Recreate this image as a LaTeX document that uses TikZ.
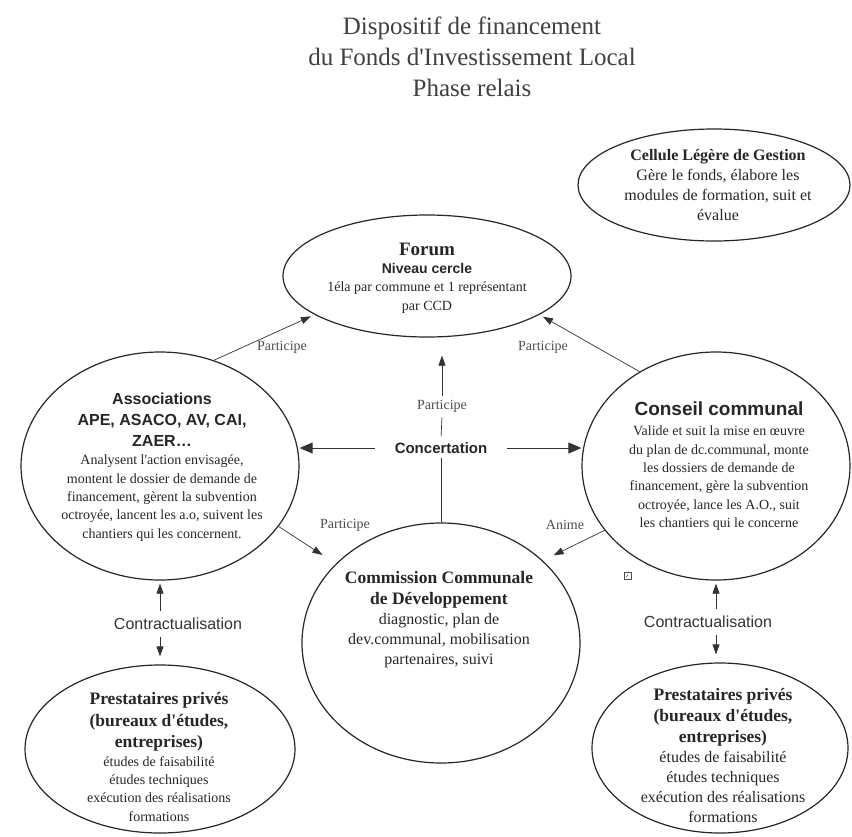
\documentclass[tikz,border=0pt]{standalone}
\usepackage{fontspec}
\setmainfont{Liberation Serif}
\setsansfont{Liberation Sans}
\usetikzlibrary{shapes.geometric,arrows.meta}
\newcommand\ptexte{\fontsize{14}{18.4}\selectfont}
\newcommand\gtexte{\fontsize{16}{20}\selectfont}
\newcommand\ptitre{\fontsize{25}{31}\selectfont}
\newcommand\gras[1]{{\bfseries\fontsize{17.5}{22}\selectfont #1}}
\newcommand\grsans[1]{{\sffamily\bfseries\fontsize{16}{21}\selectfont #1}}
\newcommand\apos{\textquotesingle}
\begin{document}
\begin{tikzpicture}[x=1pt,y=-1pt,
    every node/.style={text=black!85},
    bulle/.style={draw=black!85,ellipse,line width=1.2pt,inner sep=0pt},
    txt/.style={align=center,font=\ptexte,inner sep=0pt},
    etiq/.style={font=\fontsize{14}{16}\selectfont,text=black!70,inner sep=4pt},
    contr/.style={font=\sffamily\fontsize{16}{18}\selectfont,text=black!80,inner xsep=2pt,inner ysep=7pt},
    fleche/.style={draw=black!80,line width=0.7pt,-{Triangle[length=10pt,width=7pt]}},
    grfleche/.style={draw=black!80,line width=0.9pt,-{Triangle[length=13pt,width=11pt]}}]
  \useasboundingbox (0,0) rectangle (852,836);

  \node[font=\ptitre,align=center,text=black!75] (titre) at (472,57)
    {Dispositif de financement\\du Fonds d\apos Investissement Local\\Phase relais};

  % les bulles
  \node[bulle,minimum width=288,minimum height=122] (forum) at (427,276) {};
  \node[bulle,minimum width=272,minimum height=112] (cellule) at (714,185) {};
  \node[bulle,minimum width=278,minimum height=228] (assoc) at (160,466) {};
  \node[bulle,minimum width=268,minimum height=228] (conseil) at (716,466) {};
  \node[bulle,minimum width=278,minimum height=240] (ccd) at (441,643) {};
  \node[bulle,minimum width=270,minimum height=168] (prestG) at (160,749) {};
  \node[bulle,minimum width=256,minimum height=170] (prestD) at (720,748) {};

  \node[txt] (forumtxt) at (427,278) {{\bfseries\fontsize{19}{20}\selectfont Forum}\\
    {\sffamily\bfseries\fontsize{14}{20}\selectfont Niveau cercle}\\
    1éla par commune et 1 représentant\\par CCD};
  \node[txt,font=\gtexte] (celltxt) at (718,185) {{\bfseries Cellule Légère de Gestion}\\
    Gère le fonds, élabore les\\modules de formation, suit et\\évalue};
  \node[txt] (assoctxt) at (162,467) {\grsans{Associations}\\[2.5pt]
    \grsans{APE, ASACO, AV, CAI,}\\[2.5pt]\grsans{ZAER\ldots}\\
    Analysent l\apos action envisagée,\\montent le dossier de demande de\\
    financement, gèrent la subvention\\octroyée, lancent les a.o, suivent les\\
    chantiers qui les concernent.};
  \node[txt] (conseiltxt) at (719,466) {{\sffamily\bfseries\fontsize{19}{22}\selectfont Conseil communal}\\[2pt]
    Valide et suit la mise en œuvre\\du plan de dc.communal, monte\\
    les dossiers de demande de\\financement, gère la subvention\\
    octroyée, lance les A.O., suit\\les chantiers qui le concerne};
  \node[txt,font=\gtexte] (ccdtxt) at (439,620) {{\bfseries\fontsize{17.5}{22}\selectfont Commission Communale}\\[1pt]
    {\bfseries\fontsize{17.5}{22}\selectfont de Développement}\\
    diagnostic, plan de\\dev.communal, mobilisation\\partenaires, suivi};
  \node[txt] (prestGtxt) at (159,757) {\gras{Prestataires privés}\\[3pt]
    \gras{(bureaux d\apos études,}\\[3pt]\gras{entreprises)}\\
    études de faisabilité\\études techniques\\exécution des réalisations\\formations};
  \node[txt,font=\gtexte] (prestDtxt) at (723,755) {\gras{Prestataires privés}\\[1pt]
    \gras{(bureaux d\apos études,}\\[1pt]\gras{entreprises)}\\
    études de faisabilité\\études techniques\\exécution des réalisations\\formations};

  % les liens
  \node[font=\sffamily\bfseries\fontsize{15}{17}\selectfont,inner xsep=20pt,inner ysep=4pt] (conc) at (441,448) {Concertation};
  \node[etiq] (partC) at (442,406) {Participe};
  \node[etiq] (partG) at (282,347) {Participe};
  \node[etiq] (partD) at (543,347) {Participe};
  \node[etiq] (partB) at (345,525) {Participe};
  \node[etiq] (anime) at (565,525) {Anime};
  \node[contr] (contrG) at (178,624) {Contractualisation};
  \node[contr] (contrD) at (708,622) {Contractualisation};

  \draw[fleche,shorten >=4pt] (assoc.63) -- (forum.199);
  \draw[fleche,shorten >=4pt] (conseil.129) -- (forum.341);
  \draw[fleche,shorten >=18pt] (partC.north) -- (partC.north |- forum.south);
  \draw[draw=black!80,line width=0.7pt,shorten <=2pt,shorten >=1pt] (conc.north) -- (partC.south);
  \draw[draw=black!80,line width=0.8pt] (conc.south) -- (conc.south |- ccd.north);
  \draw[grfleche] (conc.west) -- (conc.west -| assoc.east);
  \draw[grfleche] (conc.east) -- (conc.east -| conseil.west);
  \draw[fleche,shorten >=16pt] (assoc.-27) -- (ccd.143);
  \draw[fleche,shorten >=12pt] (conseil.210) -- (ccd.39);
  \draw[fleche,shorten >=3pt] (contrG.north -| assoc.south) -- (assoc.south);
  \draw[fleche,shorten >=8pt] (contrG.south -| assoc.south) -- (prestG.north -| assoc.south);
  \draw[fleche,shorten >=3pt] (contrD.north -| conseil.south) -- (conseil.south);
  \draw[fleche,shorten >=8pt] (contrD.south -| conseil.south) -- (prestD.north -| conseil.south);

  % petit carre
  \draw[black!70,line width=0.6pt] (624,572) rectangle (631,579);
  \draw[black!70,line width=0.5pt] (626,577) -- (628,575);
\end{tikzpicture}
\end{document}
